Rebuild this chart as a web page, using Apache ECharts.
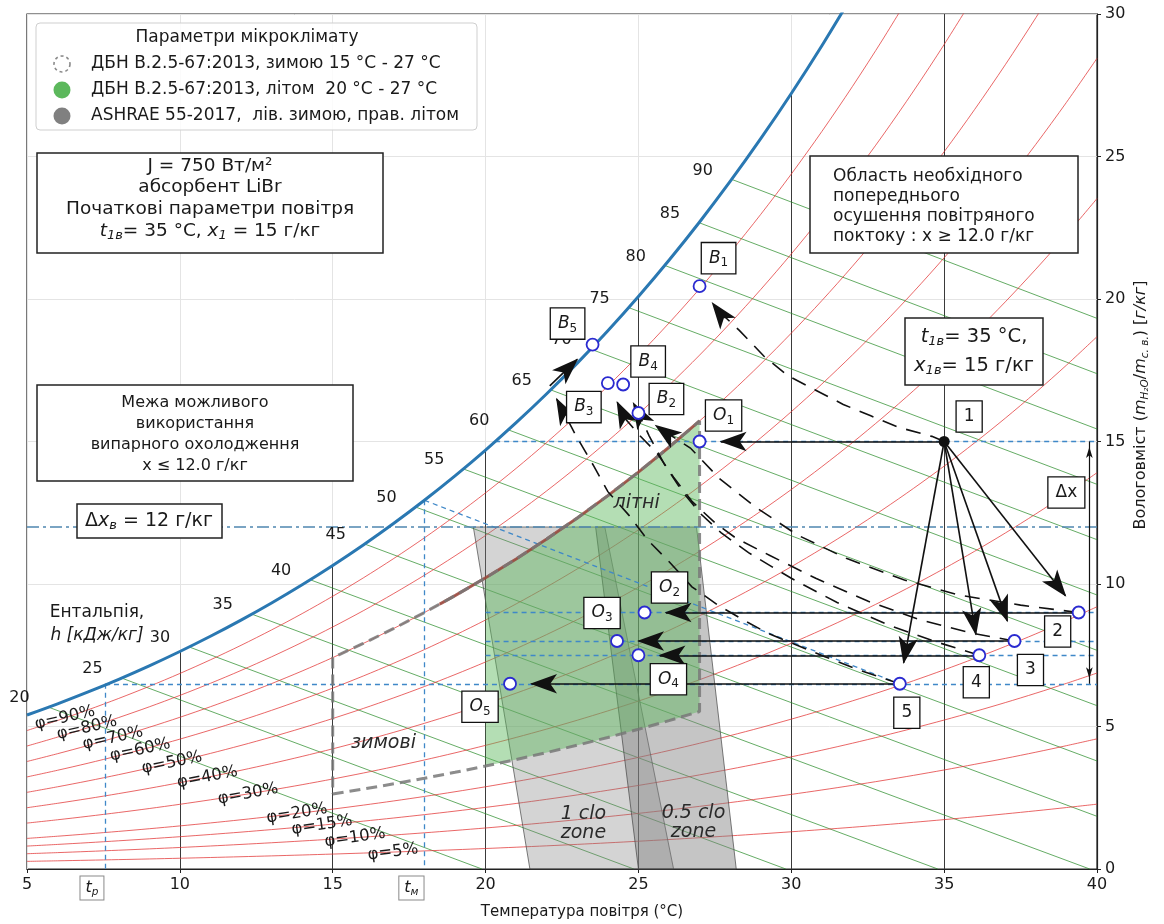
<!DOCTYPE html>
<html>
<head>
<meta charset="utf-8">
<title>Psychrometric chart</title>
<script src="https://cdn.jsdelivr.net/npm/echarts@6/dist/echarts.min.js"></script>
<style>
  html, body { margin: 0; padding: 0; background: #fff; }
  #chart { width: 1164px; height: 924px; }
</style>
</head>
<body>
<div id="chart"></div>
<script>
// ---------- reference property data ----------
const P_ATM = 101.325; // kPa
const satTemps = [5, 6, 7, 8, 9, 10, 11, 12, 13, 14, 15, 16, 17, 18, 19, 20, 21, 22, 23, 24,
                  25, 26, 27, 28, 29, 30, 31, 32, 33, 34, 35, 36, 37, 38, 39, 40];
const satPressure = [0.8726, 0.9354, 1.0021, 1.0730, 1.1482, 1.2282, 1.3130, 1.4028, 1.4981, 1.5990,
                     1.7058, 1.8188, 1.9384, 2.0647, 2.1983, 2.3393, 2.4882, 2.6453, 2.8111, 2.9858,
                     3.1699, 3.3639, 3.5681, 3.7831, 4.0092, 4.2470, 4.4969, 4.7596, 5.0354, 5.3251,
                     5.6290, 5.9479, 6.2823, 6.6328, 7.0002, 7.3851];
const rhLevels = [5, 10, 15, 20, 30, 40, 50, 60, 70, 80, 90];
const enthalpyLevels = [20, 25, 30, 35, 40, 45, 50, 55, 60, 65, 70, 75, 80, 85, 90];
const isothermTemps = [10, 15, 20, 25, 30, 35];
const xTicks = [5, 10, 15, 20, 25, 30, 35, 40];
const yTicks = [0, 5, 10, 15, 20, 25, 30];

// ---------- process states ----------
const stateNames = ['1', '2', '3', '4', '5'];
const stateT = [35.0, 39.4, 37.3, 36.15, 33.55];
const stateX = [15.0, 9.0, 8.0, 7.5, 6.5];
const outletT = [27.0, 25.2, 24.3, 25.0, 20.8];       // O1..O5, same moisture as the states
const boilT = [27.0, 25.0, 24.0, 24.5, 23.5];         // B1..B5
const boilX = [20.45, 16.0, 17.05, 17.0, 18.4];
const satTouch = [22.1, 16.95];                       // where path 5 reaches saturation
const dewT = 7.55;                                    // t_p
const wetT = 18.0;                                    // t_m
const dryLimit = 12.0;                                // Δx_в
const dxArrowT = 39.75;

// humidification / regeneration paths (T, x)
const path1 = [[35.0, 15.0], [34.6, 15.18], [33.5, 15.5], [32.6, 15.9], [31.7, 16.3], [30.8, 16.8],
               [29.9, 17.3], [29.1, 18.0], [28.3, 18.9], [27.6, 19.6], [27.0, 20.45]];
const path2 = [[39.4, 9.0], [37.5, 9.26], [35.5, 9.61], [33.7, 10.14], [31.8, 10.9], [30.2, 11.72],
               [28.8, 12.72], [27.65, 13.7], [26.7, 14.77], [25.65, 15.5], [25.0, 16.0]];
const path3 = [[37.3, 8.0], [35.8, 8.3], [34.2, 8.75], [32.5, 9.4], [30.8, 10.2], [29.3, 11.0],
               [28.2, 11.6], [27.5, 12.15], [26.75, 12.9], [26.15, 13.75], [25.6, 14.6],
               [25.05, 15.2], [24.57, 15.8], [24.0, 17.05]];
const path4 = [[36.15, 7.5], [34.8, 7.95], [33.2, 8.55], [31.5, 9.35], [30.0, 10.2], [28.6, 11.1],
               [27.7, 11.8], [27.0, 12.5], [26.4, 13.3], [25.85, 14.2], [25.35, 15.2],
               [24.94, 16.14], [24.5, 17.0]];
const path5 = [[33.55, 6.5], [32.3, 6.95], [31.1, 7.45], [30.17, 7.86], [29.24, 8.27], [28.43, 8.74],
               [27.6, 9.26], [26.75, 9.9], [26.05, 10.73], [25.3, 11.55], [24.7, 12.4], [24.0, 13.24],
               [23.55, 14.12], [22.97, 15.18], [22.1, 16.95]];

// ---------- comfort zones ----------
const summerRange = [20, 27];
const winterRange = [15, 27];
const zoneRH = [25, 70];
const ashrae1clo = [[21.45, 0], [19.6, 12.0], [23.9, 12.0], [26.15, 0]];
const ashrae05clo = [[25.0, 0], [23.6, 12.0], [26.9, 12.0], [28.2, 0]];

// ---------- layout ----------
const W = 1164, H = 924;
const GRID = { left: 27, right: 67, top: 14, bottom: 55 };
const X_MIN = 5, X_MAX = 40, Y_MIN = 0, Y_MAX = 30;
const PX_T = (W - GRID.left - GRID.right) / (X_MAX - X_MIN);
const PX_X = (H - GRID.top - GRID.bottom) / (Y_MAX - Y_MIN);
const FONT = "'DejaVu Sans', sans-serif";
const INK = '#1a1a1a';
const MARK_R = 6.5;
const HEAD_LEN = 27, HEAD_W = 14.5;
const SOLID = { opacity: 1 };

// ---------- psychrometric helpers ----------
function humidityFromPv(pv) { return 622 * pv / (P_ATM - pv); }
function pSatAt(T) {
  const n = satTemps.length;
  const i = Math.max(0, Math.min(n - 2, Math.floor(T) - satTemps[0]));
  const f = (T - satTemps[i]) / (satTemps[i + 1] - satTemps[i]);
  return satPressure[i] + f * (satPressure[i + 1] - satPressure[i]);
}
function humidityAt(T, phi) { return humidityFromPv(phi * pSatAt(T)); }
function enthalpy(T, x) { return 1.006 * T + x * (2501 + 1.86 * T) / 1000; }
function bisect(fn, lo, hi) {
  for (let k = 0; k < 60; k++) { const m = (lo + hi) / 2; if (fn(m) > 0) hi = m; else lo = m; }
  return (lo + hi) / 2;
}
function rhCurve(phi, tFrom, tTo) {
  const out = [];
  for (let i = 0; i < satTemps.length; i++) {
    const T = satTemps[i];
    if (tFrom !== undefined && (T < tFrom || T > tTo)) continue;
    const x = humidityFromPv(phi * satPressure[i]);
    out.push([T, x]);
    if (tFrom === undefined && x > Y_MAX) break;
  }
  return out;
}

// ---------- arrow helpers ----------
const arrowHeads = [];
const smallHeads = [];
function headFor(prev, end, gap, len, w, store) {
  const dx = (end[0] - prev[0]) * PX_T, dy = (end[1] - prev[1]) * PX_X;
  const L = Math.hypot(dx, dy); const ux = dx / L, uy = dy / L;
  const tip = [end[0] - ux * gap / PX_T, end[1] - uy * gap / PX_X];
  const center = [tip[0] - ux * len / 2 / PX_T, tip[1] - uy * len / 2 / PX_X];
  const lineEnd = [tip[0] - ux * len * 0.55 / PX_T, tip[1] - uy * len * 0.55 / PX_X];
  store.push({ value: center, symbolRotate: Math.atan2(uy, ux) * 180 / Math.PI - 90, symbolSize: [w, len] });
  return lineEnd;
}

const series = [];

// relative humidity curves
rhLevels.forEach(phi => series.push({
  type: 'line', data: rhCurve(phi / 100), showSymbol: false, smooth: 0.3, silent: true, z: 2,
  lineStyle: { color: 'rgba(226,55,55,0.85)', width: 0.9 }
}));

// isotherms below saturation
series.push({
  type: 'lines', coordinateSystem: 'cartesian2d', silent: true, z: 2,
  lineStyle: { color: '#3a3a3a', width: 1, opacity: 1 },
  data: isothermTemps.map(T => ({ coords: [[T, 0], [T, Math.min(Y_MAX, humidityAt(T, 1))]] }))
});

// constant enthalpy lines
const enthalpyStarts = enthalpyLevels.map(h => {
  const T0 = bisect(T => enthalpy(T, humidityAt(T, 1)) - h, 0, 45);
  return [T0, humidityAt(T0, 1)];
});
series.push({
  type: 'lines', coordinateSystem: 'cartesian2d', silent: true, z: 2,
  lineStyle: { color: 'rgba(40,140,40,0.8)', width: 0.9, opacity: 1 },
  data: enthalpyLevels.map((h, k) => {
    const tZero = h / 1.006;
    const end = tZero <= X_MAX ? [tZero, 0] : [X_MAX, 1000 * (h - 1.006 * X_MAX) / (2501 + 1.86 * X_MAX)];
    return { coords: [enthalpyStarts[k], end] };
  })
});

// enthalpy value labels along saturation
series.push({
  type: 'scatter', symbolSize: 0, silent: true, z: 6, itemStyle: SOLID,
  data: enthalpyLevels.map((h, k) => ({ value: enthalpyStarts[k], name: String(h) })),
  label: { show: true, position: 'inside', offset: [-29, -9], formatter: p => p.name,
           fontSize: 16, color: INK, fontFamily: FONT }
});

// relative humidity labels
const phiLabelSpots = [[90, 6.24, 13], [80, 6.96, 13], [70, 7.81, 12.5], [60, 8.7, 12], [50, 9.74, 11.5],
                       [40, 10.9, 11], [30, 12.23, 10.5], [20, 13.83, 9], [15, 14.65, 8.5], [10, 15.73, 8], [5, 16.97, 7]];
series.push({
  type: 'scatter', symbolSize: 0, silent: true, z: 6, itemStyle: SOLID,
  data: phiLabelSpots.map(s => ({
    value: [s[1], humidityAt(s[1], s[0] / 100)], name: 'φ=' + s[0] + '%',
    label: { rotate: s[2] }
  })),
  label: { show: true, position: 'inside', formatter: p => p.name, fontSize: 16.5, color: INK, fontFamily: FONT }
});

// comfort zones
function polygonSeries(pts, style, z) {
  return {
    type: 'custom', coordinateSystem: 'cartesian2d', silent: true, z, data: pts,
    renderItem(params, api) {
      if (params.dataIndex !== 0) return;
      return { type: 'polygon', shape: { points: pts.map(p => api.coord(p)) }, style };
    }
  };
}
series.push(polygonSeries(ashrae1clo, { fill: 'rgba(128,128,128,0.34)', stroke: 'rgba(70,70,70,0.7)', lineWidth: 1 }, 3));
series.push(polygonSeries(ashrae05clo, { fill: 'rgba(128,128,128,0.46)', stroke: 'rgba(70,70,70,0.7)', lineWidth: 1 }, 3));
const summerLow = rhCurve(zoneRH[0] / 100, summerRange[0], summerRange[1]);
const summerHigh = rhCurve(zoneRH[1] / 100, summerRange[0], summerRange[1]);
series.push(polygonSeries(summerLow.concat(summerHigh.slice().reverse()),
  { fill: 'rgba(92,184,92,0.46)', stroke: 'none' }, 3));
const winterLow = rhCurve(zoneRH[0] / 100, winterRange[0], winterRange[1]);
const winterHigh = rhCurve(zoneRH[1] / 100, winterRange[0], winterRange[1]);
const upperEdgeStart = 18.5;
series.push({
  type: 'line',
  data: [[upperEdgeStart, humidityAt(upperEdgeStart, zoneRH[1] / 100)]].concat(rhCurve(zoneRH[1] / 100, 19, summerRange[1])),
  showSymbol: false, silent: true, z: 4, lineStyle: { color: 'rgba(150,70,60,0.85)', width: 3 }
});
series.push({
  type: 'line', data: winterLow.concat(winterHigh.slice().reverse(), [winterLow[0]]),
  showSymbol: false, silent: true, z: 4,
  lineStyle: { color: 'rgba(120,120,120,0.85)', width: 3, type: [11, 6] }
});

// saturation curve
series.push({
  type: 'line', data: rhCurve(1), showSymbol: false, smooth: 0.3, silent: true, z: 5,
  lineStyle: { color: '#2a78b2', width: 3 }
});

// projection lines
const sat15T = bisect(T => humidityAt(T, 1) - stateX[0], 5, 40);
series.push({
  type: 'lines', coordinateSystem: 'cartesian2d', silent: true, z: 4,
  lineStyle: { color: '#3f88c8', width: 1.3, type: [5, 4], opacity: 1 },
  data: [
    { coords: [[sat15T, stateX[0]], [X_MAX, stateX[0]]] },
    { coords: [[summerRange[0], stateX[1]], [X_MAX, stateX[1]]] },
    { coords: [[summerRange[0], stateX[2]], [X_MAX, stateX[2]]] },
    { coords: [[summerRange[0], stateX[3]], [X_MAX, stateX[3]]] },
    { coords: [[dewT, stateX[4]], [X_MAX, stateX[4]]] },
    { coords: [[dewT, stateX[4]], [dewT, 0]] },
    { coords: [[wetT, humidityAt(wetT, 1)], [wetT, 0]] },
    { coords: [[wetT, humidityAt(wetT, 1)], [stateT[4], stateX[4]]] }
  ]
});
series.push({
  type: 'lines', coordinateSystem: 'cartesian2d', silent: true, z: 4,
  lineStyle: { color: '#4f86b0', width: 1.5, type: [12, 4, 3, 4], opacity: 1 },
  data: [{ coords: [[X_MIN, dryLimit], [X_MAX, dryLimit]] }]
});

// process arrows (solid)
const p1 = [stateT[0], stateX[0]];
const solid = [];
for (let i = 1; i < 5; i++) {
  const to = [stateT[i], stateX[i]];
  solid.push({ coords: [p1, headFor(p1, to, MARK_R, HEAD_LEN, HEAD_W, arrowHeads)] });
}
for (let i = 0; i < 5; i++) {
  const from = [stateT[i], stateX[i]], to = [outletT[i], stateX[i]];
  solid.push({ coords: [from, headFor(from, to, MARK_R, HEAD_LEN, HEAD_W, arrowHeads)] });
}
const b5 = [boilT[4], boilX[4]];
solid.push({ coords: [satTouch, headFor(satTouch, b5, MARK_R, HEAD_LEN, HEAD_W, arrowHeads)] });
series.push({
  type: 'lines', coordinateSystem: 'cartesian2d', silent: true, z: 6,
  lineStyle: { color: '#111', width: 1.6, opacity: 1 }, data: solid
});

// dashed paths to the B states
function dashedPath(path, gap) {
  const n = path.length;
  const end = headFor(path[n - 2], path[n - 1], gap, HEAD_LEN, HEAD_W, arrowHeads);
  return { coords: path.slice(0, n - 1).concat([end]) };
}
series.push({
  type: 'lines', coordinateSystem: 'cartesian2d', polyline: true, silent: true, z: 6,
  lineStyle: { color: '#111', width: 1.6, type: [15, 10], opacity: 1 },
  data: [dashedPath(path1, MARK_R), dashedPath(path2, MARK_R), dashedPath(path3, MARK_R),
         dashedPath(path4, MARK_R), dashedPath(path5, 0)]
});

// Δx double arrow
const dxTop = [dxArrowT, stateX[0]], dxBottom = [dxArrowT, stateX[4]];
headFor(dxBottom, dxTop, 0, 11, 5, smallHeads);
headFor(dxTop, dxBottom, 0, 11, 5, smallHeads);
series.push({
  type: 'lines', coordinateSystem: 'cartesian2d', silent: true, z: 6,
  lineStyle: { color: '#111', width: 1.2, opacity: 1 }, data: [{ coords: [dxTop, dxBottom] }]
});

series.push({
  type: 'scatter', symbol: 'arrow', silent: true, z: 7,
  itemStyle: { color: '#111', opacity: 1 }, data: arrowHeads
});
series.push({
  type: 'scatter', symbol: 'arrow', silent: true, z: 7,
  itemStyle: { color: '#111', opacity: 1 }, data: smallHeads
});

// state markers
const openPts = [];
for (let i = 1; i < 5; i++) openPts.push([stateT[i], stateX[i]]);
for (let i = 0; i < 5; i++) openPts.push([outletT[i], stateX[i]]);
for (let i = 0; i < 5; i++) openPts.push([boilT[i], boilX[i]]);
series.push({
  type: 'scatter', symbol: 'circle', symbolSize: 12, silent: true, z: 8, data: openPts,
  itemStyle: { color: '#fff', borderColor: '#2a2ad0', borderWidth: 1.8, opacity: 1 }
});
series.push({
  type: 'scatter', symbol: 'circle', symbolSize: 11, silent: true, z: 8, data: [p1],
  itemStyle: { color: '#111', opacity: 1 }
});

// boxed labels
const BOX_RICH = {
  n: { fontSize: 17, lineHeight: 22, fontFamily: FONT, color: INK },
  i: { fontSize: 17, lineHeight: 22, fontStyle: 'italic', fontFamily: FONT, color: INK },
  s: { fontSize: 12, lineHeight: 13, verticalAlign: 'bottom', fontFamily: FONT, color: INK }
};
const stateLabelOffset = [[25, -25], [-21, 19], [16, 29], [-3, 27], [7, 29]];
const outletLabelOffset = [[24, -26], [25, -25], [-15, -28], [30, 24], [-30, 23]];
const boilLabelOffset = [[19, -28], [28, -14], [-24, 24], [25, -23], [-25, -21]];
const boxLabels = [];
stateNames.forEach((nm, i) => boxLabels.push({ value: [stateT[i], stateX[i]], text: '{n|' + nm + '}', off: stateLabelOffset[i] }));
stateNames.forEach((nm, i) => boxLabels.push({ value: [outletT[i], stateX[i]], text: '{i|O}{s|' + nm + '}', off: outletLabelOffset[i] }));
stateNames.forEach((nm, i) => boxLabels.push({ value: [boilT[i], boilX[i]], text: '{i|B}{s|' + nm + '}', off: boilLabelOffset[i] }));
boxLabels.push({ value: dxTop, text: '{n|Δx}', off: [-23, 51] });
series.push({
  type: 'scatter', symbolSize: 0, silent: true, z: 9, itemStyle: SOLID,
  data: boxLabels.map(b => ({ value: b.value, label: { offset: b.off, formatter: b.text } })),
  label: {
    show: true, position: 'inside', rich: BOX_RICH, backgroundColor: '#fff',
    borderColor: '#111', borderWidth: 1.3, padding: [4, 7]
  }
});

// t_p / t_m markers under the axis
const T_RICH = {
  i: { fontSize: 16, lineHeight: 19, fontStyle: 'italic', fontFamily: FONT, color: INK },
  s: { fontSize: 10.5, lineHeight: 11, fontStyle: 'italic', verticalAlign: 'bottom', fontFamily: FONT, color: INK }
};
series.push({
  type: 'scatter', symbolSize: 0, silent: true, z: 9, itemStyle: SOLID,
  data: [{ value: [dewT, 0], label: { formatter: '{i|t}{s|р}' } },
         { value: [wetT, 0], label: { formatter: '{i|t}{s|м}' } }],
  label: {
    show: true, position: 'inside', offset: [-13, 19], rich: T_RICH, backgroundColor: '#fff',
    borderColor: '#8a8a8a', borderWidth: 1, padding: [2, 5]
  }
});

// zone names
const ZONE_RICH = { z: { fontSize: 19, lineHeight: 19, fontStyle: 'italic', fontFamily: FONT, color: '#2a2a2a', align: 'center' } };
series.push({
  type: 'scatter', symbolSize: 0, silent: true, z: 9, itemStyle: SOLID,
  data: [
    { value: [16.66, 4.41], label: { formatter: '{z|зимові}' } },
    { value: [24.94, 12.83], label: { formatter: '{z|літні}' } },
    { value: [23.2, 1.6], label: { formatter: '{z|1 clo}\n{z|zone}' } },
    { value: [26.8, 1.62], label: { formatter: '{z|0.5 clo}\n{z|zone}' } }
  ],
  label: { show: true, position: 'inside', rich: ZONE_RICH, align: 'center' }
});

// ---------- annotation graphics ----------
function makeRich(size) {
  return {
    n: { fontSize: size, lineHeight: 22, fontFamily: FONT, color: INK },
    i: { fontSize: size, lineHeight: 22, fontStyle: 'italic', fontFamily: FONT, color: INK },
    s: { fontSize: Math.round(size * 0.68), lineHeight: 12, fontStyle: 'italic', verticalAlign: 'bottom', fontFamily: FONT, color: INK }
  };
}
function gText(x, y, text, extra) {
  const size = (extra && extra.fontSize) || 16;
  return {
    type: 'text', z: 102, x, y,
    style: Object.assign({ text, fill: INK, fontFamily: FONT, fontSize: size, align: 'center',
                           verticalAlign: 'middle', rich: makeRich(size) }, extra || {})
  };
}
function gBox(x, y, w, h, extra) {
  return { type: 'rect', z: 101, shape: Object.assign({ x, y, width: w, height: h }, (extra && extra.shape) || {}),
           style: Object.assign({ fill: '#fff', stroke: '#222', lineWidth: 1.5 }, (extra && extra.style) || {}) };
}
const graphic = [
  // legend
  gBox(36, 23, 441, 107, { shape: { r: 4 }, style: { fill: 'rgba(255,255,255,0.85)', stroke: '#cfcfcf', lineWidth: 1 } }),
  gText(247, 38, 'Параметри мікроклімату', { fontSize: 17 }),
  { type: 'circle', z: 102, shape: { cx: 62, cy: 64, r: 8 }, style: { fill: 'none', stroke: '#8a8a8a', lineWidth: 1.6, lineDash: [3, 3] } },
  gText(91, 64, 'ДБН В.2.5-67:2013, зимою 15 °C - 27 °C', { fontSize: 17, align: 'left' }),
  { type: 'circle', z: 102, shape: { cx: 62, cy: 90, r: 8.5 }, style: { fill: '#5cb85c' } },
  gText(91, 90, 'ДБН В.2.5-67:2013, літом  20 °C - 27 °C', { fontSize: 17, align: 'left' }),
  { type: 'circle', z: 102, shape: { cx: 62, cy: 116, r: 8.5 }, style: { fill: '#808080' } },
  gText(91, 116, 'ASHRAE 55-2017,  лів. зимою, прав. літом', { fontSize: 17, align: 'left' }),

  // initial parameters
  gBox(37, 153, 346, 100),
  gText(210, 166, 'J = 750 Вт/м²', { fontSize: 18.5 }),
  gText(210, 187, 'абсорбент LiBr', { fontSize: 18.5 }),
  gText(210, 209, 'Початкові параметри повітря', { fontSize: 18.5 }),
  gText(210, 231, '{i|t}{s|1в}{n|= 35 °C, }{i|x}{s|1}{n| = 15 г/кг}', { fontSize: 18.5 }),

  // evaporative cooling limit
  gBox(37, 385, 316, 96),
  gText(195, 403, 'Межа можливого'),
  gText(195, 424, 'використання'),
  gText(195, 445, 'випарного охолодження'),
  gText(195, 466, 'x ≤ 12.0 г/кг'),

  // Δx_в
  gBox(77, 504, 145, 34),
  gText(149, 521, '{n|Δ}{i|x}{s|в}{n| = 12 г/кг}', { fontSize: 19 }),

  // pre-drying region
  gBox(810, 156, 268, 97),
  gText(833, 177, 'Область необхідного', { fontSize: 17, align: 'left' }),
  gText(833, 197, 'попереднього', { fontSize: 17, align: 'left' }),
  gText(833, 217, 'осушення повітряного', { fontSize: 17, align: 'left' }),
  gText(833, 237, 'поктоку : x ≥ 12.0 г/кг', { fontSize: 17, align: 'left' }),

  // state 1 parameters
  gBox(905, 318, 138, 67),
  gText(974, 337, '{i|t}{s|1в}{n|= 35 °C,}', { fontSize: 19.5 }),
  gText(974, 366, '{i|x}{s|1в}{n|= 15 г/кг}', { fontSize: 19.5 }),

  // enthalpy caption
  gText(97, 613, 'Ентальпія,', { fontSize: 17 }),
  gText(97, 636, 'h [кДж/кг]', { fontSize: 17, fontStyle: 'italic' }),

  // axis titles
  gText(582, 912, 'Температура повітря (°C)', { fontSize: 15 }),
  Object.assign(gText(1141, 405, 'Вологовміст ({i|m}{s|H₂O}/{i|m}{s|с. в.}) [{i|г/кг}]', {
    fontSize: 16,
    rich: {
      i: { fontSize: 16, lineHeight: 20, fontStyle: 'italic', fontFamily: FONT, color: INK },
      s: { fontSize: 10.5, lineHeight: 11, fontStyle: 'italic', verticalAlign: 'bottom', fontFamily: FONT, color: INK }
    }
  }), { rotation: Math.PI / 2 })
];

const axisCommon = {
  type: 'value', interval: 5,
  axisLine: { show: true, onZero: false, lineStyle: { color: '#222', width: 1.2 } },
  axisTick: { show: true, inside: false, length: 4, lineStyle: { color: '#222', width: 1 } },
  axisLabel: { fontSize: 16, color: INK, fontFamily: FONT, margin: 8 },
  splitLine: { show: true, lineStyle: { color: '#e4e4e4', width: 1 } }
};

const option = {
  animation: false,
  backgroundColor: '#fff',
  textStyle: { fontFamily: FONT },
  grid: { left: GRID.left, right: GRID.right, top: GRID.top, bottom: GRID.bottom,
          show: true, borderColor: '#222', borderWidth: 1.2, backgroundColor: 'transparent' },
  xAxis: Object.assign({}, axisCommon, { min: X_MIN, max: X_MAX,
    axisLabel: Object.assign({}, axisCommon.axisLabel, { customValues: xTicks }) }),
  yAxis: Object.assign({}, axisCommon, { min: Y_MIN, max: Y_MAX, position: 'right',
    axisLabel: Object.assign({}, axisCommon.axisLabel, { customValues: yTicks }) }),
  series,
  graphic
};

const chart = echarts.init(document.getElementById('chart'), null, { renderer: 'canvas', width: W, height: H });
chart.setOption(option);
</script>
</body>
</html>
